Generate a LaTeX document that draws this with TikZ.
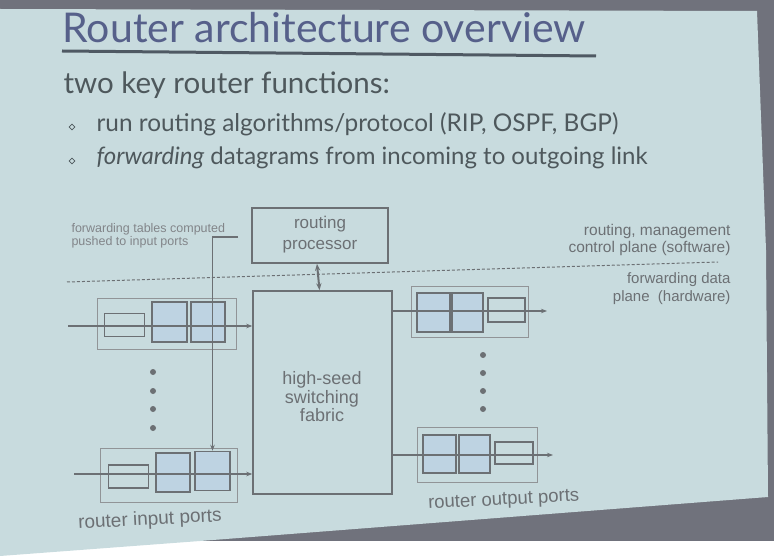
\documentclass[tikz,border=0pt]{standalone}
\usepackage{fontspec}
\setmainfont{Lato}
\newfontfamily\diagfont{Liberation Sans}
\usetikzlibrary{positioning,arrows.meta,shapes.geometric}
\definecolor{slidebg}{RGB}{200,219,222}
\definecolor{frame}{RGB}{112,114,124}
\definecolor{ink}{RGB}{78,88,92}
\definecolor{titleink}{RGB}{86,96,138}
\definecolor{wire}{RGB}{108,112,116}
\definecolor{qfill}{RGB}{190,211,226}

\begin{document}
\begin{tikzpicture}[x=1pt,y=-1pt,
            box/.style = {draw=wire,line width=1.5pt,inner sep=0pt},
            port/.style = {draw=wire!75,line width=0.9pt,inner sep=0pt},
            bigq/.style = {draw=wire,line width=1.5pt,fill=qfill,inner sep=0pt,
                minimum width=34pt,minimum height=39pt},
            smallq/.style = {draw=wire,line width=1.5pt,inner sep=0pt,
                minimum width=40pt,minimum height=23pt},
            lbl/.style = {text=wire,align=center,
                font=\diagfont\fontsize{17}{21}\selectfont},
            side/.style = {text=wire,align=right,anchor=east,
                font=\diagfont\fontsize{15.5}{17}\selectfont},
            link/.style = {draw=wire,line width=1.4pt,-{Stealth[length=6pt]}},
            dot/.style = {circle,fill=wire,inner sep=0pt,minimum size=6pt},
            bul/.style = {diamond,draw=ink,line width=0.6pt,inner sep=0pt,
                minimum size=6pt}]
            % slide in the photo
            \fill[frame] (0,0) rectangle (774,541);
            \fill[slidebg] (0,9) -- (757,11) -- (766,250) -- (768,497)
                -- (200,541) -- (0,556) -- cycle;
            \useasboundingbox (0,0) rectangle (774,541);
            % text part
            \node[anchor=base west,text=titleink,
                font=\fontsize{41}{44}\selectfont] (title) at (59,43)
                {Router architecture overview};
            \draw[ink!85!titleink,line width=3pt] (62,51) -- (596,56);
            \node[anchor=base west,text=ink,font=\fontsize{29.5}{32}\selectfont]
                (intro) at (60,94) {two key router functions:};
            \node[bul] (b1) at (72,127) {};
            \node[anchor=base west,text=ink,font=\fontsize{24.4}{27}\selectfont]
                (f1) at (93,132)
                {run routing algorithms/protocol (RIP, OSPF, BGP)};
            \node[bul] (b2) at (72,161) {};
            \node[anchor=base west,text=ink,font=\fontsize{24}{27}\selectfont]
                (f2) at (93,165)
                {\textit{forwarding} datagrams from incoming to outgoing link};
            % control / data plane
            \draw[wire,line width=1pt,dash pattern=on 3pt off 2pt]
                (67,282) -- (718,262);
            \node[box,minimum width=136pt,minimum height=55pt] (rp)
                at (320,235.5) {};
            \node[lbl] at ([yshift=1pt]rp.center) {routing\\processor};
            \node[box,minimum width=139pt,minimum height=203pt] (fab)
                at (322.5,392.5) {};
            \node[lbl,font=\diagfont\fontsize{18}{18.5}\selectfont] (fabtxt)
                at (322,397) {high-seed\\switching\\fabric};
            \draw[wire,line width=2pt,{Stealth[length=7pt]}-{Stealth[length=7pt]}]
                ([xshift=-3pt]rp.south) -- ([xshift=-3pt]fab.north);
            % input ports
            \node[port,minimum width=139pt,minimum height=51pt] (in1)
                at (166.5,323.5) {};
            \node[smallq] (in1a) at (124.5,325) {};
            \node[bigq,minimum width=35pt,minimum height=40pt] (in1b)
                at (169.5,322) {};
            \node[bigq,minimum width=34pt,minimum height=40pt] (in1c)
                at (208,322) {};
            \node[port,minimum width=137pt,minimum height=54pt] (in2)
                at (168.5,475) {};
            \node[smallq] (in2a) at (128.5,476.5) {};
            \node[bigq] (in2b) at (173,472.5) {};
            \node[bigq,minimum width=35pt] (in2c) at (212.5,471) {};
            \coordinate (src1) at (68,326);
            \coordinate (src2) at (74,474);
            \draw[link] (src1) -- (src1 -| fab.west);
            \draw[link] (src2) -- (src2 -| fab.west);
            \foreach \y in {372,391,409,428}
                \node[dot] at (153,\y) {};
            % output ports
            \node[port,minimum width=117pt,minimum height=51pt] (out1)
                at (470,312) {};
            \node[bigq,minimum width=33pt] (out1a) at (433.5,312.5) {};
            \node[bigq,minimum width=31pt] (out1b) at (467.5,312.5) {};
            \node[smallq,minimum width=37pt,minimum height=24pt] (out1c)
                at (506.5,310) {};
            \node[port,minimum width=120pt,minimum height=55pt] (out2)
                at (477,454.5) {};
            \node[bigq,minimum width=33pt,minimum height=38pt] (out2a)
                at (439.5,454) {};
            \node[bigq,minimum width=31pt,minimum height=38pt] (out2b)
                at (474.5,454) {};
            \node[smallq,minimum width=38pt,minimum height=22pt] (out2c)
                at (514,453) {};
            \coordinate (dst1) at (547,311);
            \coordinate (dst2) at (553,455);
            \draw[link] (dst1 -| fab.east) -- (dst1);
            \draw[link] (dst2 -| fab.east) -- (dst2);
            \foreach \y in {355,373,391,409}
                \node[dot] at (483,\y) {};
            % forwarding tables
            \node[anchor=north west,align=left,text=wire!85,
                font=\diagfont\fontsize{12.5}{13}\selectfont] (ftab) at (68,220)
                {forwarding tables computed\\pushed to input ports};
            \coordinate (ftend) at (238,237);
            \draw[link,line width=1.1pt] (ftend) -| (in2c.north);
            % plane labels
            \node[side] (ctrl) at (734,240)
                {routing, management\\control plane (software)};
            \node[side,font=\diagfont\fontsize{15}{18}\selectfont] (data)
                at (734,289) {forwarding data\\plane\ \ (hardware)};
            \node[lbl,anchor=base west,rotate=3,
                font=\diagfont\fontsize{19}{20}\selectfont] (inlbl) at (75,529)
                {router input ports};
            \node[lbl,anchor=base west,rotate=3,
                font=\diagfont\fontsize{18.5}{20}\selectfont] (outlbl) at (425,509)
                {router output ports};
        \end{tikzpicture}
\end{document}
